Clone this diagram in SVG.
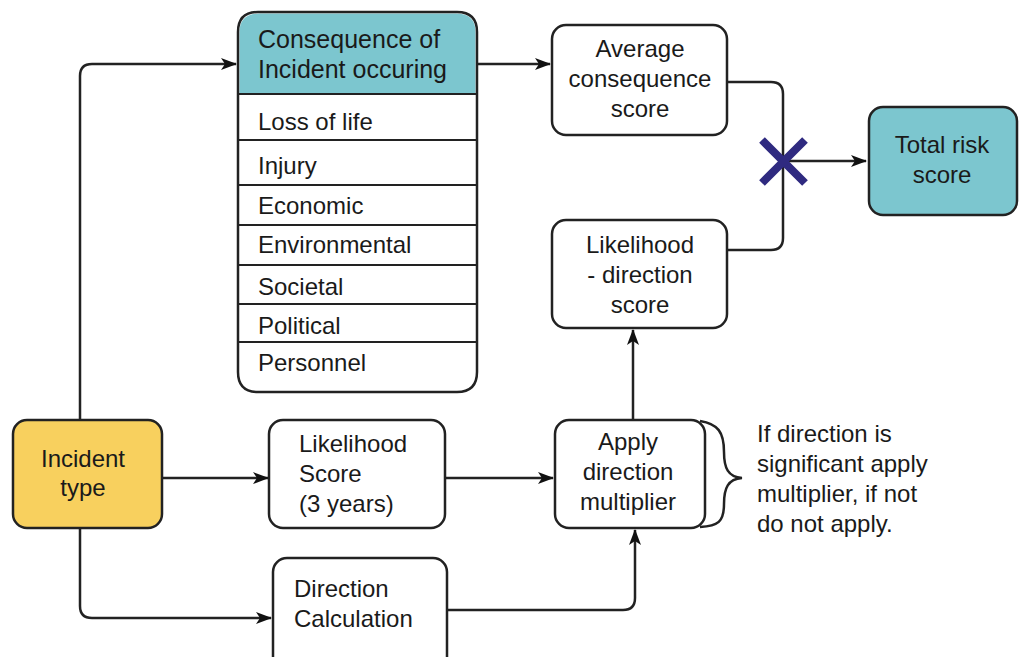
<svg xmlns="http://www.w3.org/2000/svg" width="1024" height="657" viewBox="0 0 1024 657">
<defs>
<marker id="ah" viewBox="0 0 16 12" refX="15" refY="6" markerWidth="16" markerHeight="12" markerUnits="userSpaceOnUse" orient="auto">
<path d="M0,0 L16,6 L0,12 L4,6 z" fill="#111"/>
</marker>
<style>
.box{stroke:#222;stroke-width:2.5;fill:#fff}
.teal{fill:#7cc6cf}
.yellow{fill:#f8d05e}
.t{font-family:"Liberation Sans",Arial,sans-serif;font-size:24px;fill:#1a1a1a}
.c{text-anchor:middle}
.h{font-size:25px}
.ln{stroke:#222;stroke-width:2.5;fill:none}
.sep{stroke:#222;stroke-width:2.2}
</style>
</defs>
<rect width="1024" height="657" fill="#fff"/>

<g id="connectors">
<path class="ln" d="M80,420 L80,76 Q80,64 92,64 L236,64" marker-end="url(#ah)"/>
<path class="ln" d="M477,64 L550,64" marker-end="url(#ah)"/>
<path class="ln" d="M727,82 L771,82 Q783,82 783,94 L783,238 Q783,250 771,250 L727,250"/>
<path class="ln" d="M783,161 L866,161" marker-end="url(#ah)"/>
<path class="ln" d="M162,478 L268,478" marker-end="url(#ah)"/>
<path class="ln" d="M80,528 L80,606 Q80,618 92,618 L271,618" marker-end="url(#ah)"/>
<path class="ln" d="M445,478 L553,478" marker-end="url(#ah)"/>
<path class="ln" d="M447,610 L623,610 Q635,610 635,598 L635,530" marker-end="url(#ah)"/>
<path class="ln" d="M633,420 L633,330" marker-end="url(#ah)"/>
</g>

<g id="multiply">
<path d="M762,140 L805,183 M805,140 L762,183" stroke="#2f2a80" stroke-width="8" stroke-linecap="butt"/>
</g>

<g id="consequence">
<path class="teal" stroke="none" d="M259.5,13.5 L456,13.5 Q475.5,13.5 475.5,32 L475.5,93 L239.5,93 L239.5,32 Q239.5,13.5 259.5,13.5 Z"/>
<path class="ln" d="M258,12 L457,12 Q477,12 477,32 L477,372 Q477,392 457,392 L258,392 Q238,392 238,372 L238,32 Q238,12 258,12 Z"/>
<line class="sep" x1="238" y1="94" x2="477" y2="94"/>
<line class="sep" x1="238" y1="140" x2="477" y2="140"/>
<line class="sep" x1="238" y1="185" x2="477" y2="185"/>
<line class="sep" x1="238" y1="225" x2="477" y2="225"/>
<line class="sep" x1="238" y1="265" x2="477" y2="265"/>
<line class="sep" x1="238" y1="304" x2="477" y2="304"/>
<line class="sep" x1="238" y1="342" x2="477" y2="342"/>
<text class="t h" x="258" y="48">Consequence of</text>
<text class="t h" x="258" y="78">Incident occuring</text>
<text class="t" x="258" y="130">Loss of life</text>
<text class="t" x="258" y="174">Injury</text>
<text class="t" x="258" y="214">Economic</text>
<text class="t" x="258" y="253">Environmental</text>
<text class="t" x="258" y="295">Societal</text>
<text class="t" x="258" y="334">Political</text>
<text class="t" x="258" y="371">Personnel</text>
</g>

<g id="avg">
<rect class="box" x="552" y="25" width="175" height="110" rx="14"/>
<text class="t c" x="640" y="57">Average</text>
<text class="t c" x="640" y="87">consequence</text>
<text class="t c" x="640" y="117">score</text>
</g>

<g id="likdir">
<rect class="box" x="552" y="220" width="175" height="108" rx="14"/>
<text class="t c" x="640" y="253">Likelihood</text>
<text class="t c" x="640" y="283">- direction</text>
<text class="t c" x="640" y="313">score</text>
</g>

<g id="total">
<rect class="box teal" x="869" y="107" width="148" height="108" rx="14"/>
<text class="t c" x="942" y="153">Total risk</text>
<text class="t c" x="942" y="183">score</text>
</g>

<g id="incident">
<rect class="box yellow" x="13" y="420" width="149" height="108" rx="14"/>
<text class="t c" x="83" y="467">Incident</text>
<text class="t c" x="83" y="496">type</text>
</g>

<g id="likscore">
<rect class="box" x="269" y="420" width="176" height="108" rx="14"/>
<text class="t" x="299" y="452">Likelihood</text>
<text class="t" x="299" y="482">Score</text>
<text class="t" x="299" y="512">(3 years)</text>
</g>

<g id="dircalc">
<rect class="box" x="273" y="558" width="174" height="120" rx="14"/>
<text class="t" x="294" y="597">Direction</text>
<text class="t" x="294" y="627">Calculation</text>
</g>

<g id="apply">
<rect class="box" x="555" y="420" width="150" height="108" rx="14"/>
<path class="ln" d="M700,421 C718,424 724,432 724,452 C724,468 728,477 742,478 C728,479 724,488 724,504 C724,522 718,526 700,527"/>
<text class="t c" x="628" y="450">Apply</text>
<text class="t c" x="628" y="480">direction</text>
<text class="t c" x="628" y="510">multiplier</text>
</g>

<g id="note">
<text class="t" x="757" y="442">If direction is</text>
<text class="t" x="757" y="472">significant apply</text>
<text class="t" x="757" y="502">multiplier, if not</text>
<text class="t" x="757" y="532">do not apply.</text>
</g>
</svg>
